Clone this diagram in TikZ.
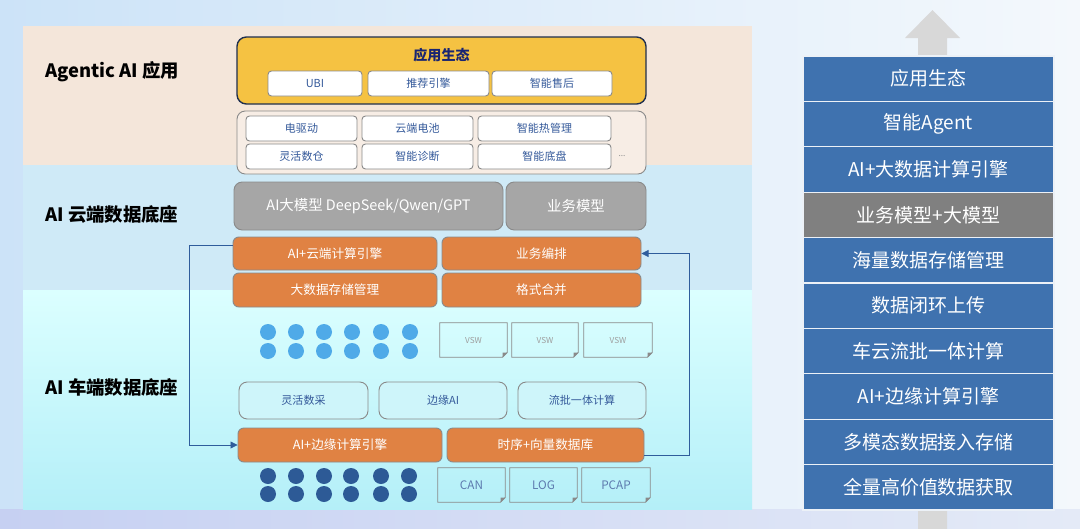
\documentclass[tikz,border=0pt]{standalone}
\usepackage{fontspec}
\setmainfont{Noto Sans CJK SC}
\usetikzlibrary{arrows.meta,positioning,calc}

\definecolor{panelbeige}{HTML}{F4E6DA}
\definecolor{panelblue}{HTML}{CFEAF7}
\definecolor{panelcyan}{HTML}{B4EFF8}
\definecolor{appyellow}{HTML}{F5C242}
\definecolor{appnavy}{HTML}{1F2F4F}
\definecolor{textblue}{HTML}{34599A}
\definecolor{boxgray}{HTML}{A6A6A6}
\definecolor{edgegray}{HTML}{8A8A8A}
\definecolor{engorange}{HTML}{E08243}
\definecolor{dotlight}{HTML}{4FAAE8}
\definecolor{dotdark}{HTML}{2D5A96}
\definecolor{stackblue}{HTML}{3F72AF}
\definecolor{stackgray}{HTML}{808080}
\definecolor{flowblue}{HTML}{2F5D9C}
\definecolor{arrowgray}{HTML}{D8D8D8}
\definecolor{skyleft}{HTML}{CCE3F8}
\definecolor{skyright}{HTML}{F4F8FC}
\definecolor{floorleft}{HTML}{C6D0F2}
\definecolor{floorright}{HTML}{E4EAF7}

\def\upx{0.03cm}

\tikzset{
  base/.style={inner sep=0pt, align=center},
  layerlabel/.style={anchor=west, inner sep=0pt, font=\fontsize{15.7}{18}\selectfont\bfseries},
  appeco/.style={base, draw=appnavy, fill=appyellow, line width=1.2pt, rounded corners=8pt},
  appbtn/.style={base, draw=edgegray, fill=white, line width=0.8pt, rounded corners=3pt,
    text=textblue, font=\fontsize{9.4}{11}\selectfont},
  domainbox/.style={base, draw=edgegray, fill=panelbeige!70!white, line width=0.8pt, rounded corners=7pt},
  modelbox/.style={base, draw=edgegray, fill=boxgray, line width=0.8pt, rounded corners=7pt,
    text=white, font=\fontsize{12.3}{14}\selectfont},
  enginebox/.style={base, draw=edgegray, fill=engorange, line width=0.8pt, rounded corners=5pt,
    text=white, font=\fontsize{10.8}{13}\selectfont},
  edgebox/.style={base, draw=edgegray, fill=white!35!panelcyan, line width=0.8pt, rounded corners=7pt,
    text=textblue, font=\fontsize{9.4}{11}\selectfont},
  docbox/.style={base, text=textblue!80!white, font=\fontsize{10}{12}\selectfont},
  vswbox/.style={docbox, text=black!38, font=\fontsize{7}{8}\selectfont},
  stackbox/.style={base, draw=white!90!stackblue, line width=0.9pt, text=white,
    minimum width=251*\upx, minimum height=45.4*\upx, font=\fontsize{16.2}{19}\selectfont},
  flow/.style={draw=flowblue, line width=0.7pt, -{Triangle[length=6pt, width=6pt]}},
}

\begin{document}
\begin{tikzpicture}[x=0.03cm, y=-0.03cm]
    % Background
    \shade[left color=skyleft, right color=skyright] (0,0) rectangle (1080,529);
    \shade[left color=floorleft, right color=floorright] (0,509) rectangle (1080,529);
    \useasboundingbox (0,0) rectangle (1080,529);

    % Layer bands
    \fill[panelbeige] (23,26) rectangle (752,165);
    \fill[panelblue] (23,165) rectangle (752,290);
    \shade[top color=cyan!14!white, bottom color=panelcyan] (23,290) rectangle (752,509);

    % Layer labels
    \node[layerlabel] (lapp) at (45,72) {Agentic AI 应用};
    \node[layerlabel] (lcloud) at (45,214) {AI 云端数据底座};
    \node[layerlabel] (lcar) at (45,387) {AI 车端数据底座};

    % Application ecosystem
    \node[appeco, minimum width=409*\upx, minimum height=67*\upx] (eco) at (441.5,70.5) {};
    \node[text=appnavy!80!blue, font=\fontsize{12}{14}\selectfont\bfseries] (ecot) at (441.5,55) {应用生态};
    \node[appbtn, minimum width=94*\upx, minimum height=25*\upx] (ubi) at (315,83.5) {UBI};
    \node[appbtn, minimum width=121*\upx, minimum height=25*\upx] (rec) at (428.5,83.5) {推荐引擎};
    \node[appbtn, minimum width=120*\upx, minimum height=25*\upx] (aft) at (552,83.5) {智能售后};

    % Vehicle domains
    \node[domainbox, minimum width=409*\upx, minimum height=63*\upx] (dom) at (441.5,142.5) {};
    \node[appbtn, minimum width=111*\upx, minimum height=25*\upx] (edrv) at (301.5,128.5) {电驱动};
    \node[appbtn, minimum width=111*\upx, minimum height=25*\upx] (cbat) at (417.5,128.5) {云端电池};
    \node[appbtn, minimum width=133*\upx, minimum height=25*\upx] (thm) at (544.5,128.5) {智能热管理};
    \node[appbtn, minimum width=111*\upx, minimum height=25*\upx] (wh) at (301.5,156.5) {灵活数仓};
    \node[appbtn, minimum width=111*\upx, minimum height=25*\upx] (diag) at (417.5,156.5) {智能诊断};
    \node[appbtn, minimum width=133*\upx, minimum height=25*\upx] (chs) at (544.5,156.5) {智能底盘};
    \node[text=black!45, font=\fontsize{7}{8}\selectfont] (more) at (622,156) {...};

    % Models
    \node[modelbox, minimum width=269*\upx, minimum height=48*\upx] (llm) at (368.5,206) {AI大模型 DeepSeek/Qwen/GPT};
    \node[modelbox, minimum width=140*\upx, minimum height=48*\upx] (bm) at (576,206) {业务模型};

    % Cloud engines
    \node[enginebox, minimum width=204*\upx, minimum height=33*\upx] (ce) at (335,253.5) {AI+云端计算引擎};
    \node[enginebox, minimum width=199*\upx, minimum height=33*\upx] (bp) at (541.5,253.5) {业务编排};
    \node[enginebox, minimum width=204*\upx, minimum height=34*\upx] (bs) at (335,290) {大数据存储管理};
    \node[enginebox, minimum width=199*\upx, minimum height=34*\upx] (fm) at (541.5,290) {格式合并};

    % Vehicle software
    \foreach \x in {268,296,324,352,381,410}
      \foreach \y in {332,351}
        \fill[dotlight] (\x,\y) circle (8*\upx);
    \node[vswbox, minimum width=67*\upx, minimum height=34*\upx] (v1) at (473.5,340) {VSW};
    \node[vswbox, minimum width=66*\upx, minimum height=34*\upx] (v2) at (545,340) {VSW};
    \node[vswbox, minimum width=68*\upx, minimum height=34*\upx] (v3) at (618,340) {VSW};

    % Edge functions
    \node[edgebox, minimum width=129*\upx, minimum height=37*\upx] (acq) at (303.5,400.5) {灵活数采};
    \node[edgebox, minimum width=128*\upx, minimum height=37*\upx] (eai) at (443,400.5) {边缘AI};
    \node[edgebox, minimum width=128*\upx, minimum height=37*\upx] (sbc) at (582,400.5) {流批一体计算};

    % Edge engines
    \node[enginebox, minimum width=204*\upx, minimum height=34*\upx] (ee) at (340,445) {AI+边缘计算引擎};
    \node[enginebox, minimum width=197*\upx, minimum height=34*\upx] (tv) at (545.5,445) {时序+向量数据库};

    % Raw data
    \foreach \x in {268,296,324,351,381,409}
      \foreach \y in {476,494}
        \fill[dotdark] (\x,\y) circle (8*\upx);
    \node[docbox, minimum width=67*\upx, minimum height=34*\upx] (can) at (471.5,485) {CAN};
    \node[docbox, minimum width=67*\upx, minimum height=34*\upx] (log) at (543.5,485) {LOG};
    \node[docbox, minimum width=68*\upx, minimum height=34*\upx] (pcap) at (616,485) {PCAP};

    % Folded corners
    \foreach \n in {v1,v2,v3,can,log,pcap} {
      \draw[edgegray, line width=0.8pt] (\n.north west) -- (\n.north east) -- ([yshift=4pt]\n.south east)
        -- ([xshift=-4pt]\n.south east) -- (\n.south west) -- cycle;
      \fill[edgegray] ([yshift=4pt]\n.south east) -- ([xshift=-4pt]\n.south east) -- ([xshift=-4pt, yshift=4pt]\n.south east) -- cycle;
    }

    % Cloud-car loop
    \coordinate (lb) at (189,245);
    \coordinate (rb) at (689,455);
    \draw[flow] ([yshift=8.5*\upx]ce.west) -- (lb) |- (ee.west);
    \draw[flow] ([yshift=-10*\upx]tv.east) -- (rb) |- (bp.east);

    % Capability stack
    \fill[arrowgray] (918,529) -- (918,38) -- (905,38) -- (932.5,10) -- (960,38) -- (947,38) -- (947,529) -- cycle;
    \foreach \t/\c [count=\i] in {应用生态/stackblue, 智能Agent/stackblue, AI+大数据计算引擎/stackblue,
        业务模型+大模型/stackgray, 海量数据存储管理/stackblue, 数据闭环上传/stackblue,
        车云流批一体计算/stackblue, AI+边缘计算引擎/stackblue, 多模态数据接入存储/stackblue,
        全量高价值数据获取/stackblue}
      \node[stackbox, fill=\c] (s\i) at (928.5,{56+45.4*(\i-0.5)}) {\t};
\end{tikzpicture}
\end{document}
